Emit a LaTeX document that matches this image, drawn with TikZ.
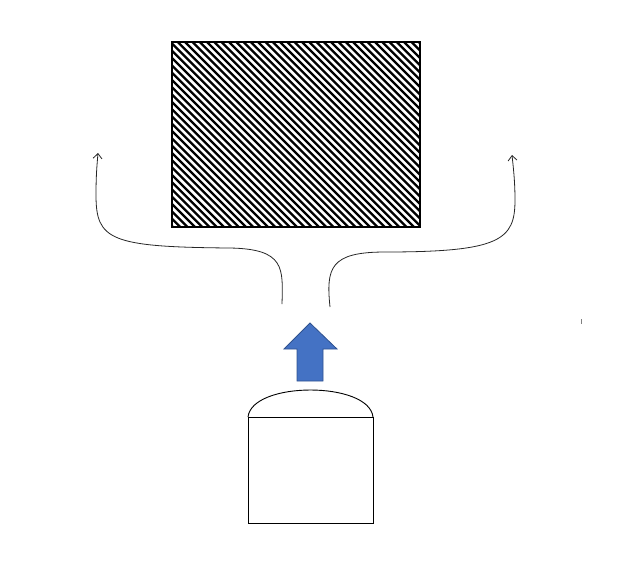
\documentclass[tikz,border=0pt]{standalone}
\usetikzlibrary{arrows.meta}
\begin{document}
\begin{tikzpicture}[x=1pt,y=-1pt,
  panel/.style={draw=black,line width=1.2pt,minimum width=248pt,minimum height=185pt,inner sep=0pt,outer sep=0pt},
  tankbox/.style={draw=black,line width=1pt,minimum width=125pt,minimum height=106pt,inner sep=0pt,outer sep=0pt},
  flow/.style={draw=black!85,line width=0.8pt,-{Straight Barb[length=5pt,width=9pt]}},
  hatchline/.style={line width=2.3pt,black},
  bluearrow/.style={fill={rgb,255:red,68;green,114;blue,196},draw={rgb,255:red,47;green,82;blue,143},line width=0.8pt}]
\useasboundingbox (0,0) rectangle (620,587);
% hatched panel
\node[panel] (panel) at (296,134.5) {};
\begin{scope}
  \clip (panel.north west) rectangle (panel.south east);
  \foreach \k in {0,...,62} {
    \draw[hatchline] (-16+\k*7.3,38) -- ++(200,200);
  }
\end{scope}
\node[panel] at (panel.center) {};
% flow curves
\coordinate (ls) at (282,304);
\coordinate (lt) at (98,153);
\coordinate (rs) at (330,307);
\coordinate (rt) at (512,155);
\draw[flow] (ls) .. controls (283,268) and (285,249) .. (230,248)
  .. controls (110,247) and (96,240) .. (96,195)
  .. controls (96,175) and (97,165) .. (lt);
\draw[flow] (rs) .. controls (326,268) and (330,252) .. (385,252)
  .. controls (500,252) and (515,240) .. (515,200)
  .. controls (515,180) and (513,165) .. (rt);
% blue arrow
\draw[bluearrow] (310,323) -- (337,349) -- (323,349) -- (323,381) -- (297,381) -- (297,349) -- (284,349) -- cycle;
% tank
\node[tankbox] (tank) at (310.5,470) {};
\draw[line width=0.9pt] (tank.north west) .. controls (252,381) and (369,381) .. (tank.north east);
% small mark
\coordinate (m1) at (581,319);
\coordinate (m2) at (581,324);
\draw[gray,line width=0.8pt] (m1) -- (m2);
\end{tikzpicture}
\end{document}
